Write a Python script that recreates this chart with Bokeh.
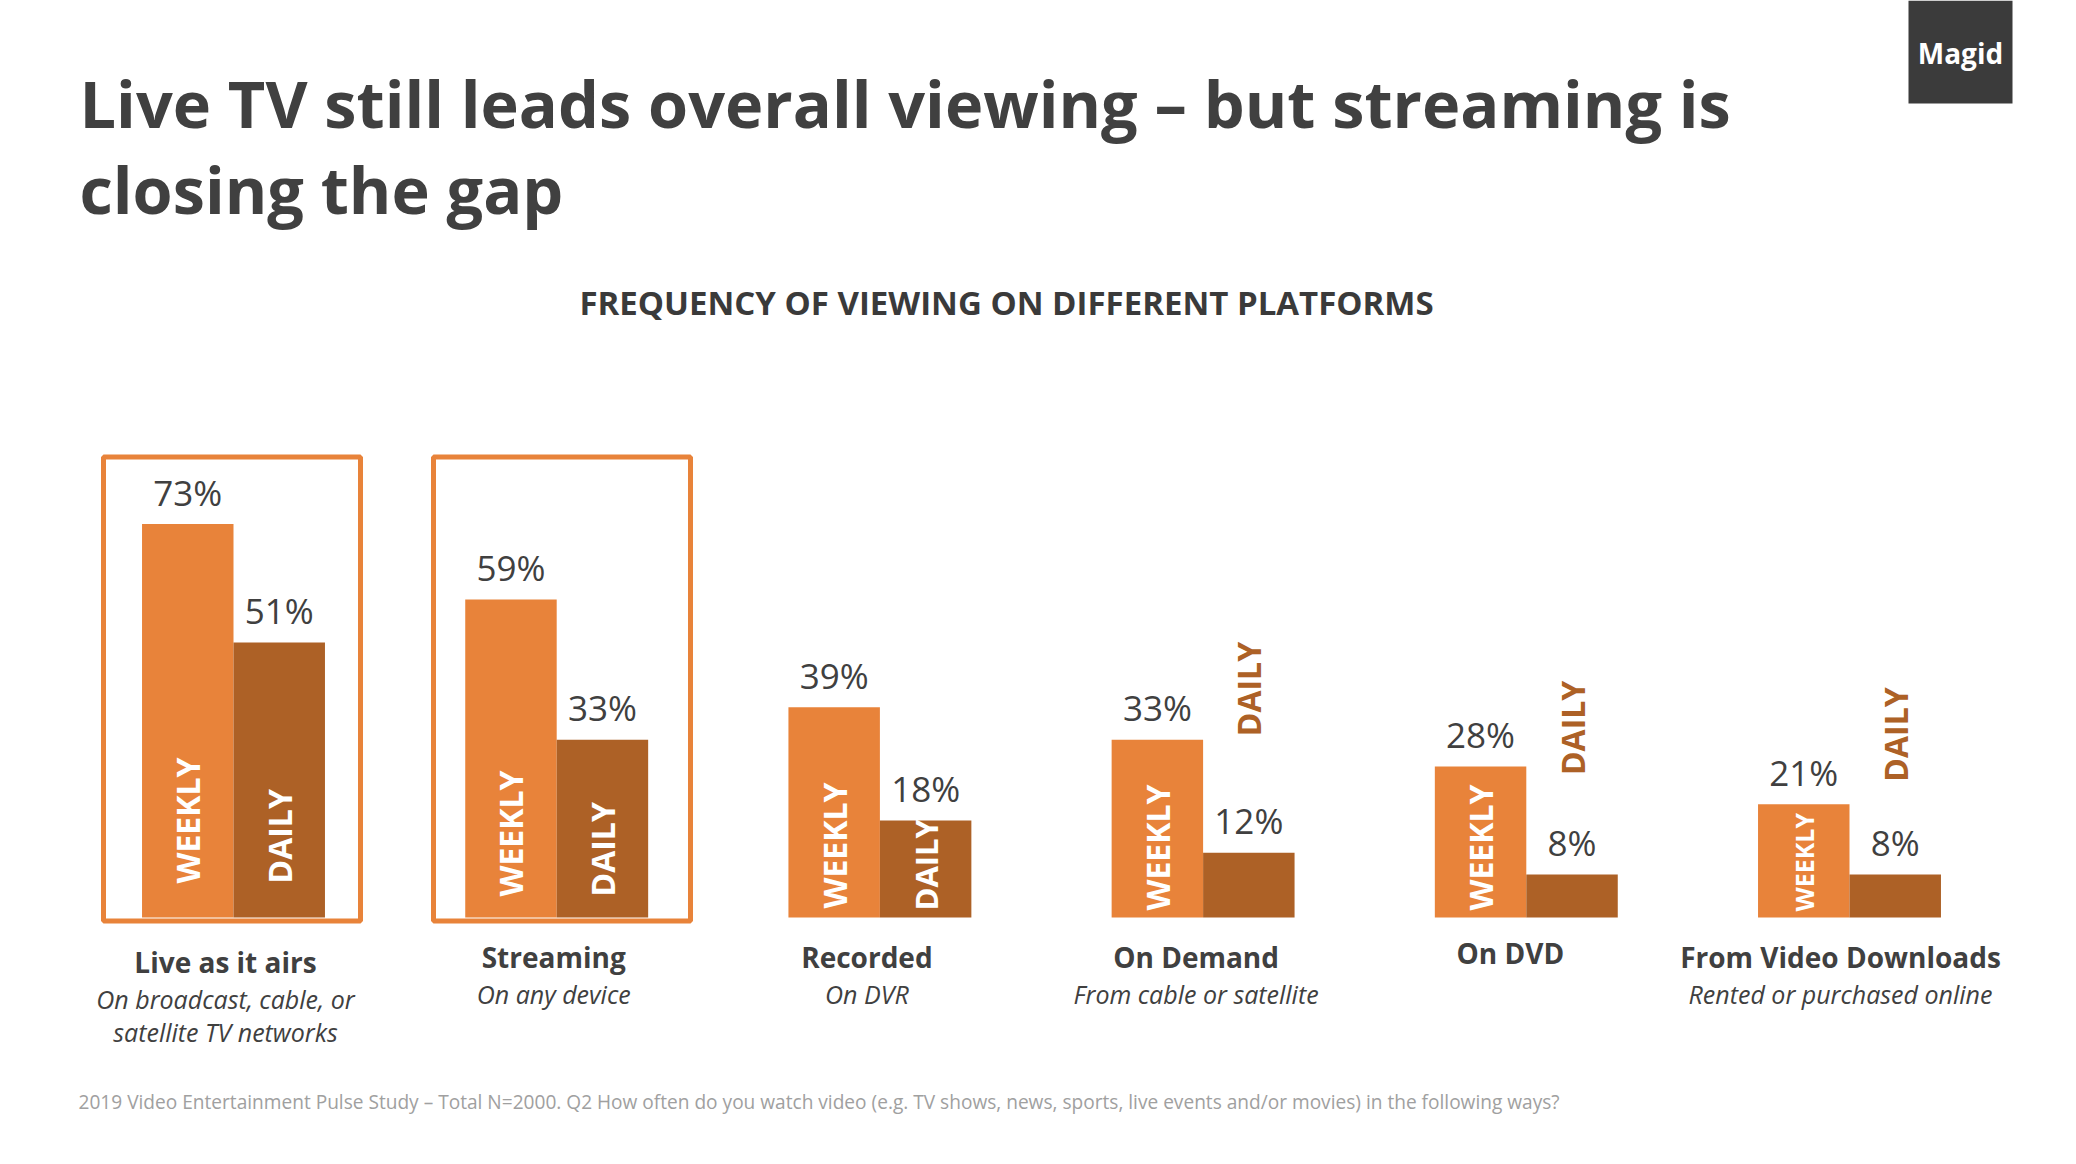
import numpy as np
from bokeh.plotting import figure
from bokeh.models import Range1d, ColumnDataSource
from bokeh.core.properties import value
from bokeh.embed import file_html
from bokeh.resources import INLINE

# ---------------- data ----------------
categories = ["Live as it airs", "Streaming", "Recorded", "On Demand", "On DVD", "From Video Downloads"]
sublabels_1 = ["On broadcast, cable, or", "On any device", "On DVR", "From cable or satellite", "", "Rented or purchased online"]
sublabels_2 = ["satellite TV networks", "", "", "", "", ""]
weekly = [73, 59, 39, 33, 28, 21]
daily = [51, 33, 18, 12, 8, 8]

title_lines = ["Live TV still leads overall viewing \u2013 but streaming is", "closing the gap"]
subtitle = "FREQUENCY OF VIEWING ON DIFFERENT PLATFORMS"
footnote = ("2019 Video Entertainment Pulse Study \u2013 Total N=2000. Q2 How often do you watch video "
            "(e.g. TV shows, news, sports, live events and/or movies) in the following ways?")
brand = "Magid"

# ---------------- layout ----------------
W, H = 2076, 1164
GROUP_PX = 323.2       # px between group centres
X0_PX = 233.0          # px of first group centre
BASE_PX = 917.0        # px (from top) of the bar baseline
PCT_PX = 5.39          # px per percentage point
BAR_W = 0.283

def px2x(px):
    return (px - X0_PX) / GROUP_PX

def py2y(py):
    return (BASE_PX - py) / PCT_PX

ORANGE = "#E8833A"
BROWN = "#AD6126"
TEXT = "#404040"
FONT = "Open Sans"

p = figure(width=W, height=H, output_backend="svg", toolbar_location=None,
           x_range=Range1d(px2x(0), px2x(W)), y_range=Range1d(py2y(H), py2y(0)),
           min_border=0, x_axis_location=None, y_axis_location=None)
p.grid.visible = False
p.outline_line_color = None
p.background_fill_color = "white"
p.border_fill_color = "white"

idx = np.arange(len(categories), dtype=float)
src = ColumnDataSource(dict(
    xw=idx - BAR_W / 2, xd=idx + BAR_W / 2, weekly=weekly, daily=daily,
    wl=[f"{v}%" for v in weekly], dl=[f"{v}%" for v in daily],
))

# highlight boxes
box_l = [103, 433]
box_r = [360, 690]
p.quad(left=[px2x(v) for v in box_l], right=[px2x(v) for v in box_r],
       top=py2y(456.5), bottom=py2y(920.5), fill_color=None,
       line_color=ORANGE, line_width=5)

# bars
p.vbar(x="xw", top="weekly", width=BAR_W, bottom=0, source=src, fill_color=ORANGE, line_color=None)
p.vbar(x="xd", top="daily", width=BAR_W, bottom=0, source=src, fill_color=BROWN, line_color=None)

# value labels
p.text(x="xw", y="weekly", text="wl", source=src, y_offset=-32, text_align="center",
       text_baseline="middle", text_font=value(FONT), text_font_size="35px", text_color=TEXT)
p.text(x="xd", y="daily", text="dl", source=src, y_offset=-32, text_align="center",
       text_baseline="middle", text_font=value(FONT), text_font_size="35px", text_color=TEXT)

# rotated series labels inside bars
wk_off = [34, 21, 9, 7, 7, 6]
wk_size = ["32px", "32px", "32px", "32px", "32px", "25px"]
for i in range(len(categories)):
    p.text(x=[idx[i] - BAR_W / 2], y=[0], y_offset=-wk_off[i], text=["WEEKLY"], angle=np.pi / 2,
           text_align="left", text_baseline="middle", text_font=value(FONT),
           text_font_style="bold", text_font_size=wk_size[i], text_color="white")
dl_in_off = [34, 21, 7]
dl_in_size = ["32px", "32px", "31px"]
for i, off in enumerate(dl_in_off):
    p.text(x=[idx[i] + BAR_W / 2], y=[0], y_offset=-off, text=["DAILY"], angle=np.pi / 2,
           text_align="left", text_baseline="middle", text_font=value(FONT),
           text_font_style="bold", text_font_size=dl_in_size[i], text_color="white")
dl_out_off = {3: 88 * 1.324, 4: 75 * 1.324, 5: 70 * 1.324}
for i, off in dl_out_off.items():
    p.text(x=[idx[i] + BAR_W / 2], y=[daily[i]], y_offset=-off, text=["DAILY"], angle=np.pi / 2,
           text_align="left", text_baseline="middle", text_font=value(FONT),
           text_font_style="bold", text_font_size="32px", text_color=BROWN)

# category labels
cat_dx = [-8, -3, -13, -7, -16, -9]
cat_py = [961, 956, 956, 956, 952, 956]
sub_py = [998, 993, 993, 993, 993, 993]
for i, c in enumerate(categories):
    xx = px2x(X0_PX + i * GROUP_PX + cat_dx[i])
    p.text(x=[xx], y=[py2y(cat_py[i])], text=[c], text_align="center", text_baseline="middle",
           text_font=value(FONT), text_font_style="bold", text_font_size="28px", text_color=TEXT)
    if sublabels_1[i]:
        p.text(x=[xx], y=[py2y(sub_py[i])], text=[sublabels_1[i]], text_align="center",
               text_baseline="middle", text_font=value(FONT), text_font_style="italic",
               text_font_size="25px", text_color=TEXT)
    if sublabels_2[i]:
        p.text(x=[xx], y=[py2y(sub_py[i] + 33)], text=[sublabels_2[i]], text_align="center",
               text_baseline="middle", text_font=value(FONT), text_font_style="italic",
               text_font_size="25px", text_color=TEXT)

# title
for k, line in enumerate(title_lines):
    p.text(x=[px2x(79)], y=[py2y(102 + 86 * k)], text=[line], text_align="left",
           text_baseline="alphabetic", text_font=value(FONT), text_font_style="bold",
           text_font_size="64.8px", text_color=TEXT)

# subtitle
p.text(x=[px2x(1006)], y=[py2y(302)], text=[subtitle], text_align="center", text_baseline="middle",
       text_font=value(FONT), text_font_style="bold", text_font_size="33px", text_color="#3a3a3a")

# brand box
p.quad(left=[px2x(1908)], right=[px2x(2012)], top=[py2y(0)], bottom=[py2y(103)],
       fill_color="#3b3b3b", line_color=None)
p.text(x=[px2x(1960)], y=[py2y(52)], text=[brand], text_align="center", text_baseline="middle",
       text_font=value(FONT), text_font_style="bold", text_font_size="28px", text_color="white")

# footnote
p.text(x=[px2x(78)], y=[py2y(1101)], text=[footnote], text_align="left", text_baseline="middle",
       text_font=value(FONT), text_font_size="19.1px", text_color="#a0a0a0")

open("out.html", "w").write(file_html(p, INLINE))
